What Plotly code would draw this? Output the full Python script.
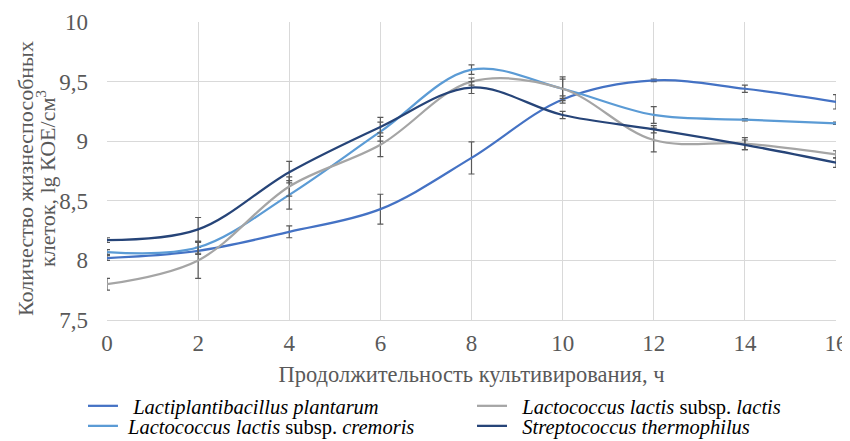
import plotly.graph_objects as go

hours = [0, 2, 4, 6, 8, 10, 12, 14, 16]

plantarum = [8.02, 8.08, 8.24, 8.43, 8.86, 9.35, 9.51, 9.44, 9.33]
plantarum_err = [0.02, 0.03, 0.05, 0.125, 0.135, 0.03, 0.01, 0.03, 0.06]

cremoris = [8.07, 8.11, 8.55, 9.08, 9.60, 9.44, 9.22, 9.18, 9.15]
cremoris_err = [0.02, 0.05, 0.12, 0.08, 0.04, 0.10, 0.07, 0.01, 0.01]

lactis = [7.80, 8.00, 8.62, 8.97, 9.50, 9.44, 9.01, 8.98, 8.89]
lactis_err = [0.05, 0.15, 0.08, 0.10, 0.03, 0.08, 0.10, 0.05, 0.03]

thermophilus = [8.17, 8.26, 8.74, 9.12, 9.45, 9.22, 9.10, 8.97, 8.82]
thermophilus_err = [0.02, 0.10, 0.09, 0.08, 0.05, 0.03, 0.03, 0.04, 0.04]

x_title = "Продолжительность культивирования, ч"
y_title_lines = ["Количество жизнеспособных", "клеток, lg КОЕ/см<sup>3</sup>"]

series = [
    ("  <i>Lactiplantibacillus plantarum</i>", plantarum, plantarum_err, "#4472C4", "legend"),
    (" <i>Lactococcus lactis</i> subsp. <i>cremoris</i>", cremoris, cremoris_err, "#5B9BD5", "legend2"),
    ("  <i>Lactococcus lactis</i> subsp. <i>lactis</i>", lactis, lactis_err, "#A5A5A5", "legend3"),
    ("  <i>Streptococcus thermophilus</i>", thermophilus, thermophilus_err, "#264478", "legend4"),
]

FAM = "Liberation Serif, Times New Roman, serif"
GREY = "#595959"

fig = go.Figure()
for name, vals, errs, color, lg in series:
    fig.add_trace(go.Scatter(
        x=hours, y=vals, name=name, mode="lines",
        line=dict(color=color, width=2.25, shape="spline", smoothing=1.0),
        error_y=dict(type="data", array=errs, visible=True, color=GREY, thickness=1.2, width=3),
        legend=lg, showlegend=True,
    ))

legend_common = dict(
    orientation="v", yanchor="middle", xanchor="left",
    xref="container", yref="container",
    font=dict(family=FAM, size=20.5, color="black"),
    bgcolor="rgba(0,0,0,0)", tracegroupgap=0, itemwidth=30, visible=True,
)

col1_x, col2_x = 0.0882, 0.5459
row1_y, row2_y = 0.0975, 0.0521

for text, xpos in zip(y_title_lines, [-0.1125, -0.0837]):
    fig.add_annotation(
        text=text, xref="paper", yref="paper", x=xpos, y=0.4765,
        xanchor="center", yanchor="middle", textangle=-90, showarrow=False,
        font=dict(family=FAM, size=22, color=GREY),
    )

fig.update_layout(
    width=850, height=441,
    showlegend=True,
    margin=dict(l=99, r=22, t=14, b=129, autoexpand=False),
    paper_bgcolor="white", plot_bgcolor="white",
    separators=", ",
    font=dict(family=FAM, size=20, color=GREY),
    xaxis=dict(
        range=[0, 16], dtick=2, tick0=0, showgrid=True, gridcolor="#D9D9D9", gridwidth=1,
        zeroline=False, showline=True, linecolor="#D9D9D9", linewidth=1, ticks="",
        automargin=False, ticklabelstandoff=2,
        title=dict(text=x_title, font=dict(family=FAM, size=22.5, color=GREY), standoff=11),
        tickfont=dict(family=FAM, size=23, color=GREY),
    ),
    yaxis=dict(
        range=[7.5, 10], dtick=0.5, tick0=7.5, showgrid=True, gridcolor="#D9D9D9", gridwidth=1,
        zeroline=False, showline=False, ticks="",
        automargin=False, ticklabelstandoff=18,
        tickfont=dict(family=FAM, size=23, color=GREY),
    ),
    legend=dict(x=col1_x, y=row1_y, **legend_common),
    legend2=dict(x=col1_x, y=row2_y, **legend_common),
    legend3=dict(x=col2_x, y=row1_y, **legend_common),
    legend4=dict(x=col2_x, y=row2_y, **legend_common),
)

fig.write_html("out.html")
